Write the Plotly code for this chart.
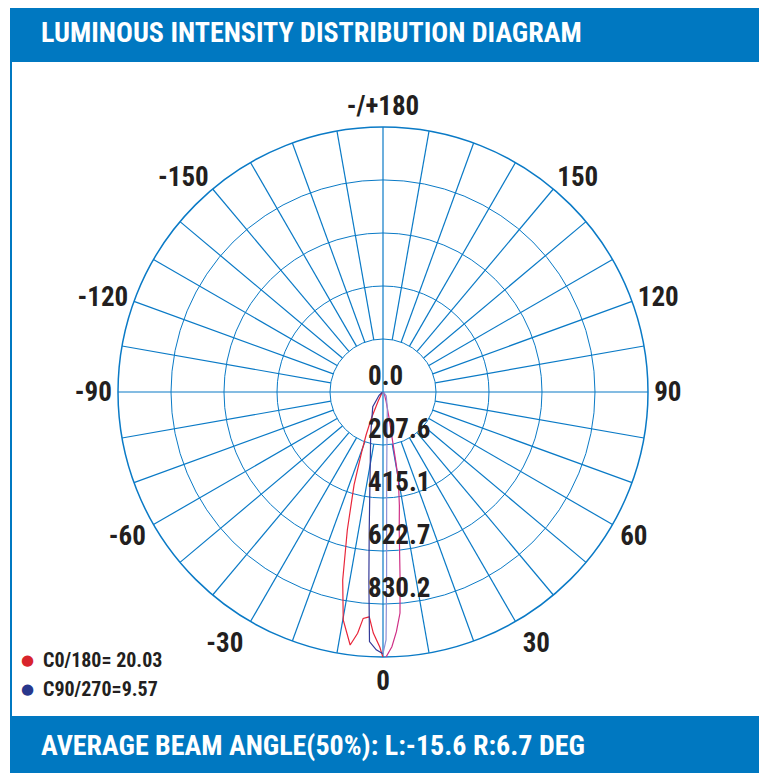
import math
import plotly.graph_objects as go

# ---------------- data ----------------
ring_values = [0, 207.6, 415.1, 622.7, 830.2, 1037.8]
ring_labels = ["0.0", "207.6", "415.1", "622.7", "830.2", "1037.8"]

angle_ticktext = ["0", "30", "60", "90", "120", "150", "-/+180", "-150", "-120", "-90", "-60", "-30"]

# C0 half (red)
c0_theta = [-60, -40, -28, -24, -21.5, -19.6, -17.3, -14.5, -12.1, -9.9, -7.4, -6.0, -5.0, -3.5, -2.3, -0.7, 0]
c0_r = [4, 8, 40, 110, 180, 248, 381, 558, 753, 906, 999, 950, 890, 882, 945, 1000, 1040]

# C180 half (magenta)
c180_theta = [0, 0.4, 2.0, 3.2, 4.4, 5.2, 6.7, 8.2, 9.9, 10.4, 11.0, 13.0, 18.0, 30.0, 60.0]
c180_r = [1040, 1046, 998, 940, 868, 739, 544, 450, 350, 280, 200, 110, 40, 12, 4]

# C90 half (navy)
c90_theta = [-60, -50, -35, -16, -8.0, -5.7, -4.3, -3.1, -1.5, 0]
c90_r = [4, 20, 70, 175, 368, 543, 738, 979, 1010, 1025]

# C270 half (lavender)
c270_theta = [0, 0.7, 1.1, 1.5, 2.4, 5.3, 14.8, 40, 60]
c270_r = [1025, 971, 736, 541, 345, 169, 66, 20, 4]

legend_labels = ["C0/180= 20.03", "C90/270=9.57"]
title_text = "LUMINOUS INTENSITY DISTRIBUTION DIAGRAM"
footer_text = "AVERAGE BEAM ANGLE(50%): L:-15.6 R:6.7 DEG"

# ---------------- styles ----------------
PAGE = 8                      # default body margin of the html page
W, H = 767 - PAGE, 773 - PAGE
BLUE = "#0078C1"
GRID = "#0A7AC6"
DARK = "#231F20"
FONT = "Roboto Condensed, Roboto, sans-serif"
# where the angle labels sit around the rim (as in the original artwork)
label_pos = [0, 31, 61, 90, 110, 140, 180, 220, 250, 270, 299, 329]

def px(x):
    return (x - PAGE) / W

def py(y):
    return (H - (y - PAGE)) / H

cx, cy, Rpx = 383, 392, 265
rmax = ring_values[-1]

fig = go.Figure()

sp_t, sp_r = [], []
for a in range(0, 360, 10):
    r0 = 0 if a % 90 == 0 else ring_values[1]
    sp_t += [a, a, None]
    sp_r += [r0, rmax, None]
fig.add_trace(go.Scatterpolar(theta=sp_t, r=sp_r, mode="lines",
                              line=dict(color=GRID, width=1.2),
                              hoverinfo="skip", showlegend=False))

fig.add_trace(go.Scatterpolar(theta=c0_theta, r=c0_r, mode="lines",
                              line=dict(color="#E8263A", width=1.2), showlegend=False))
fig.add_trace(go.Scatterpolar(theta=c180_theta, r=c180_r, mode="lines",
                              line=dict(color="#CF2F86", width=1.2), showlegend=False))
fig.add_trace(go.Scatterpolar(theta=c90_theta, r=c90_r, mode="lines",
                              line=dict(color="#343A98", width=1.2), showlegend=False))
fig.add_trace(go.Scatterpolar(theta=c270_theta, r=c270_r, mode="lines",
                              line=dict(color="#8C8FD4", width=1.2), showlegend=False))

off = 15 * rmax / Rpx
lab_t = [math.degrees(math.atan2(-off, v)) for v in ring_values]
lab_r = [math.hypot(off, v) for v in ring_values]
fig.add_trace(go.Scatterpolar(theta=lab_t, r=lab_r, mode="text", text=ring_labels,
                              textposition="top right",
                              textfont=dict(family=FONT, size=27, color=DARK, weight="bold"),
                              hoverinfo="skip", showlegend=False))

fig.update_layout(
    width=W, height=H,
    margin=dict(l=0, r=0, t=0, b=0),
    paper_bgcolor="white",
    showlegend=False,
    polar=dict(
        domain=dict(x=[px(cx - Rpx), px(cx + Rpx)],
                    y=[py(cy + Rpx), py(cy - Rpx)]),
        bgcolor="white",
        angularaxis=dict(rotation=-90, direction="counterclockwise",
                         tickmode="array", tickvals=label_pos, ticktext=angle_ticktext,
                         showgrid=False, showline=True, linecolor=GRID, linewidth=1.5,
                         ticks="", layer="below traces",
                         tickfont=dict(family=FONT, size=27, color=DARK, weight="bold")),
        radialaxis=dict(range=[0, rmax], tickmode="array", tickvals=ring_values[1:],
                        showticklabels=False, ticks="", showline=False,
                        gridcolor=GRID, gridwidth=1.2, layer="below traces"),
    ),
)

fig.add_shape(type="rect", xref="paper", yref="paper",
              x0=px(10), x1=1, y0=py(62), y1=1,
              fillcolor=BLUE, line=dict(width=0), layer="below")
fig.add_shape(type="rect", xref="paper", yref="paper",
              x0=px(10), x1=1, y0=0, y1=py(716),
              fillcolor=BLUE, line=dict(width=0), layer="below")
fig.add_shape(type="line", xref="paper", yref="paper",
              x0=px(11), x1=px(11), y0=py(716), y1=py(62),
              line=dict(color=BLUE, width=2), layer="below")
fig.add_shape(type="line", xref="paper", yref="paper",
              x0=px(765), x1=px(765), y0=py(716), y1=py(62),
              line=dict(color=BLUE, width=2), layer="below")

fig.add_annotation(text=title_text, xref="paper", yref="paper",
                   x=px(39), y=py(33), xanchor="left", yanchor="middle",
                   showarrow=False,
                   font=dict(family=FONT, size=28, color="white", weight="bold"))
fig.add_annotation(text=footer_text, xref="paper", yref="paper",
                   x=px(39), y=py(745), xanchor="left", yanchor="middle",
                   showarrow=False,
                   font=dict(family=FONT, size=28, color="white", weight="bold"))

dot_colors = ["#D8242C", "#28378C"]
for i, (lab, col) in enumerate(zip(legend_labels, dot_colors)):
    yy = 660 + 29 * i
    fig.add_annotation(text="●", xref="paper", yref="paper",
                       x=px(27), y=py(yy), xanchor="center", yanchor="middle",
                       showarrow=False, font=dict(family="DejaVu Sans", size=15, color=col))
    fig.add_annotation(text=lab, xref="paper", yref="paper",
                       x=px(41), y=py(yy), xanchor="left", yanchor="middle",
                       showarrow=False,
                       font=dict(family=FONT, size=20, color=DARK, weight="bold"))

fig.write_html("out.html")
